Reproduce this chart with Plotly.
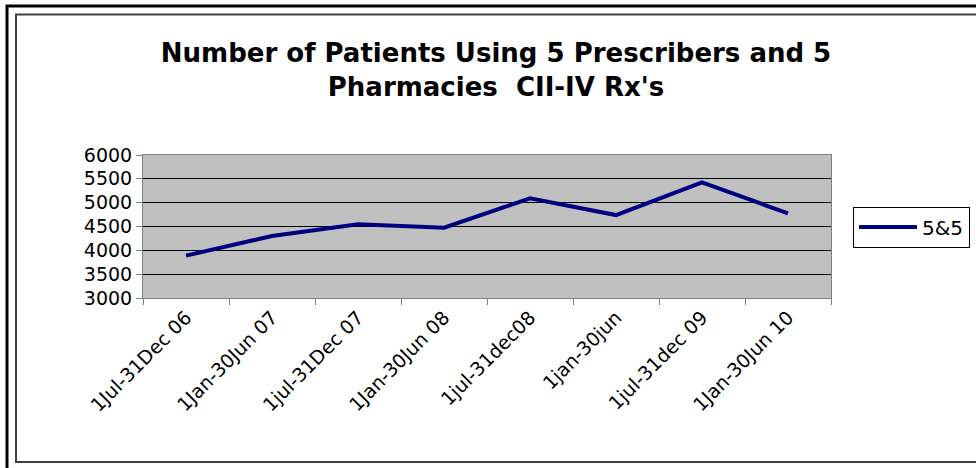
import plotly.graph_objects as go

categories = ["1Jul-31Dec 06", "1Jan-30Jun 07", "1jul-31Dec 07", "1Jan-30Jun 08",
              "1jul-31dec08", "1jan-30jun", "1jul-31dec 09", "1Jan-30Jun 10"]
values_5and5 = [3890, 4300, 4545, 4475, 5090, 4740, 5425, 4775]
y_ticks = [3000, 3500, 4000, 4500, 5000, 5500, 6000]
series_name = "5&5"
title_text = "Number of Patients Using 5 Prescribers and 5<br>Pharmacies  CII-IV Rx's"

W, H = 976, 468
L, R, T, B = 143, 831, 155, 298

def px_x(px):
    return (px - L) / (R - L)

def px_y(py):
    return (B - py) / (B - T)

FONT = "DejaVu Sans"

fig = go.Figure()
fig.add_trace(go.Scatter(
    x=categories, y=values_5and5, mode="lines", name=series_name,
    line=dict(color="#000080", width=4),
))

fig.update_layout(
    width=W, height=H,
    margin=dict(l=L, r=W - R, t=T, b=H - B, pad=0, autoexpand=False),
    paper_bgcolor="white",
    plot_bgcolor="#C0C0C0",
    font=dict(family=FONT, color="black", size=19),
    title=dict(text="<b>" + title_text + "</b>", x=px_x(496), xref="paper",
               xanchor="center", y=1 - 62 / H, yanchor="middle",
               font=dict(family=FONT, size=26, color="black")),
    showlegend=True,
    legend=dict(x=px_x(853), xanchor="left", y=px_y(227), yanchor="middle",
                bordercolor="black", borderwidth=1, bgcolor="white",
                itemwidth=58,
                font=dict(family=FONT, size=20, color="black")),
    xaxis=dict(type="category", range=[-0.5, len(categories) - 0.5],
               tickson="boundaries", ticks="outside", ticklen=6, tickcolor="#808080",
               showline=True, linecolor="#808080", linewidth=1, mirror=True,
               showgrid=False, tickangle=-45, tickfont=dict(size=19)),
    yaxis=dict(range=[3000, 6000], tickvals=y_ticks, ticks="outside", ticklen=6,
               tickcolor="#808080", showline=True, linecolor="#808080", linewidth=1,
               mirror=True, showgrid=True, gridcolor="black", gridwidth=1,
               zeroline=False, tickfont=dict(size=19)),
    shapes=[
        dict(type="rect", xref="paper", yref="paper",
             x0=px_x(7), x1=px_x(1000), y0=px_y(490), y1=px_y(6),
             line=dict(color="black", width=3)),
        dict(type="rect", xref="paper", yref="paper",
             x0=px_x(16), x1=px_x(995), y0=px_y(462), y1=px_y(14.5),
             line=dict(color="#404040", width=2)),
    ],
)

fig.write_html("out.html", config={"displayModeBar": False},
               post_script="document.body.style.margin='0';document.body.style.overflow='hidden';")
